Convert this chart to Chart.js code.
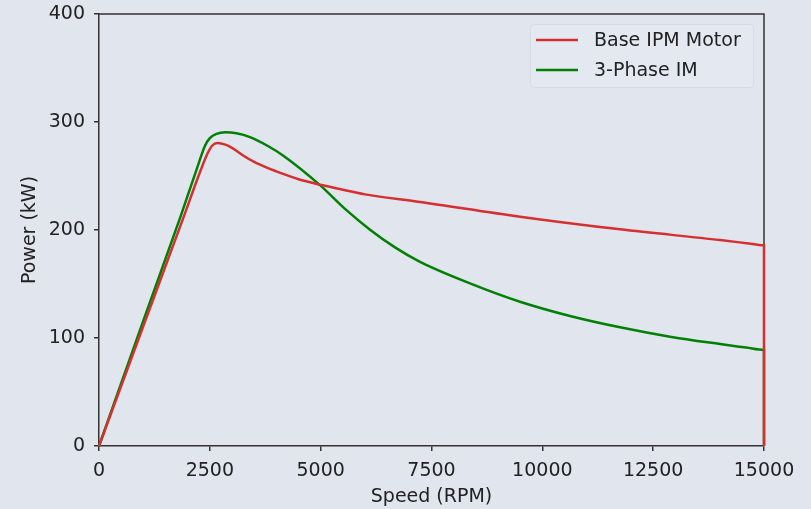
<!DOCTYPE html>
<html>
<head>
<meta charset="utf-8">
<script src="https://cdn.jsdelivr.net/npm/chart.js@4/dist/chart.umd.min.js"></script>
<style>
  html, body { margin: 0; padding: 0; background: #e0e5ee; }
  #wrap { width: 811px; height: 509px; }
</style>
</head>
<body>
<div id="wrap"><canvas id="powerChart" width="811" height="509"></canvas></div>
<script>
// series names
const seriesNames = ['Base IPM Motor', '3-Phase IM'];
const seriesColors = ['#d62f2f', '#008000'];

// Base IPM motor (rpm / kW)
const speedIpm = [0, 1000, 1900, 2300, 2450, 2550, 2680, 2850, 3000, 3250, 3500, 3800, 4150, 4500, 4985, 6000, 7241, 9496, 11752, 14008, 14600, 15000, 15000];
const powerIpm = [0, 111, 211, 256, 271, 278, 280.5, 279, 276, 269, 263, 257.5, 252, 247, 242, 233, 226, 212.3, 200.6, 190.7, 187.8, 185.8, 0];

// 3-phase induction motor
const speedIm = [0, 1000, 1827, 2250, 2391, 2500, 2650, 2850, 3100, 3406, 3800, 4150, 4985, 5549, 6113, 6677, 7241, 8368, 9496, 10624, 11752, 12880, 14008, 14600, 15000, 15000];
const powerIm = [0, 116, 211, 262, 278, 285, 289, 290.5, 289.5, 286, 278, 269, 241.5, 219.5, 200.3, 183.9, 170.5, 150.6, 133.6, 120.4, 109.9, 101.2, 94.4, 91.1, 88.9, 0];

// axis ticks
const speedTicks = [0, 2500, 5000, 7500, 10000, 12500, 15000];
const powerTicks = [0, 100, 200, 300, 400];

const FONT = 'DejaVu Sans';
const TEXT = '#222222';
const AXIS = '#333333';

function toPoints(xs, ys) {
  return xs.map((x, i) => ({ x: x, y: ys[i] }));
}

// top + right spines
const frame = {
  id: 'frame',
  beforeDatasetsDraw(chart) {
    const { ctx, chartArea: a } = chart;
    ctx.save();
    ctx.strokeStyle = AXIS;
    ctx.lineWidth = 1.5;
    ctx.beginPath();
    ctx.moveTo(a.left, a.top);
    ctx.lineTo(a.right, a.top);
    ctx.lineTo(a.right, a.bottom);
    ctx.stroke();
    ctx.restore();
  }
};

// legend box in upper right of the plot
const boxLegend = {
  id: 'boxLegend',
  afterDraw(chart) {
    const { ctx, chartArea: a } = chart;
    const x = a.right - 234, y = a.top + 10, w = 223, h = 63;
    ctx.save();
    ctx.fillStyle = 'rgba(236,239,245,0.35)';
    ctx.strokeStyle = '#d6dbe4';
    ctx.lineWidth = 1;
    ctx.beginPath();
    ctx.roundRect(x + 0.5, y + 0.5, w, h, 4);
    ctx.fill();
    ctx.stroke();
    ctx.font = '19px "' + FONT + '"';
    ctx.textBaseline = 'middle';
    chart.data.datasets.forEach((ds, i) => {
      const ly = y + 16 + i * 30;
      ctx.strokeStyle = ds.borderColor;
      ctx.lineWidth = 2.5;
      ctx.beginPath();
      ctx.moveTo(x + 6, ly);
      ctx.lineTo(x + 48, ly);
      ctx.stroke();
      ctx.fillStyle = TEXT;
      ctx.fillText(ds.label, x + 64, ly + 1);
    });
    ctx.restore();
  }
};

const ctx = document.getElementById('powerChart').getContext('2d');
const powerChart = new Chart(ctx, {
  type: 'line',
  data: {
    datasets: [
      { label: seriesNames[0], data: toPoints(speedIpm, powerIpm), borderColor: seriesColors[0] },
      { label: seriesNames[1], data: toPoints(speedIm, powerIm), borderColor: seriesColors[1] }
    ].map(ds => Object.assign(ds, {
      borderWidth: 2.5,
      pointRadius: 0,
      fill: false,
      cubicInterpolationMode: 'monotone',
      clip: 6
    }))
  },
  options: {
    responsive: false,
    animation: false,
    layout: { padding: { left: 0, right: 47, top: 14, bottom: 0 } },
    plugins: { legend: { display: false }, tooltip: { enabled: false } },
    scales: {
      x: {
        type: 'linear',
        min: 0,
        max: 15000,
        afterFit: s => { s.height = 63; s.paddingLeft = 0; s.paddingRight = 0; },
        afterBuildTicks: s => { s.ticks = speedTicks.map(v => ({ value: v })); },
        ticks: { color: TEXT, font: { family: FONT, size: 19 }, padding: 9, maxRotation: 0, callback: v => String(v) },
        grid: { drawOnChartArea: false, drawTicks: true, tickLength: 5, color: AXIS, lineWidth: 1.5 },
        border: { display: true, color: AXIS, width: 1.5 },
        title: { display: true, text: 'Speed (RPM)', color: TEXT, font: { family: FONT, size: 19 }, padding: { top: 0, bottom: 1 } }
      },
      y: {
        min: 0,
        max: 400,
        afterFit: s => { s.width = 99; s.paddingTop = 0; s.paddingBottom = 0; },
        afterBuildTicks: s => { s.ticks = powerTicks.map(v => ({ value: v })); },
        ticks: { color: TEXT, font: { family: FONT, size: 19 }, padding: 9, callback: v => String(v) },
        grid: { drawOnChartArea: false, drawTicks: true, tickLength: 5, color: AXIS, lineWidth: 1.5 },
        border: { display: true, color: AXIS, width: 1.5 },
        title: { display: true, text: 'Power (kW)', color: TEXT, font: { family: FONT, size: 19 }, padding: { top: 19, bottom: 0 } }
      }
    }
  },
  plugins: [frame, boxLegend]
});
</script>
</body>
</html>
